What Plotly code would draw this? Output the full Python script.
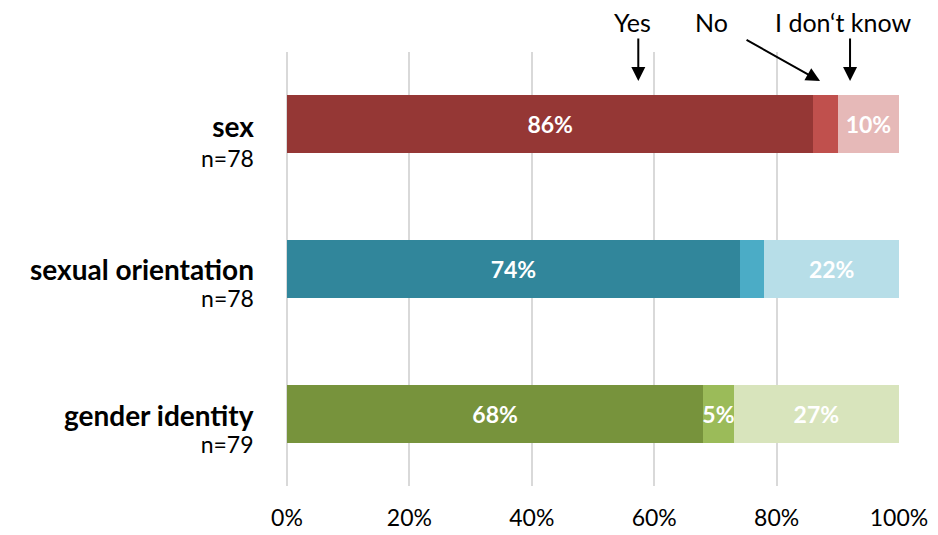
import plotly.graph_objects as go

categories = ["sex", "sexual orientation", "gender identity"]
sample_sizes = ["n=78", "n=78", "n=79"]
yes_vals = [86, 74, 68]
no_vals = [4, 4, 5]
idk_vals = [10, 22, 27]
answer_labels = ["Yes", "No", "I don\u2018t know"]
x_ticks = [0, 20, 40, 60, 80, 100]
x_tick_labels = ["0%", "20%", "40%", "60%", "80%", "100%"]

yes_colors = ["#953735", "#31869B", "#77933C"]
no_colors = ["#C0504D", "#4BACC6", "#9BBB59"]
idk_colors = ["#E6B9B8", "#B7DEE8", "#D8E4BC"]

FONT = "Lato, 'Open Sans', sans-serif"

def lab(vals):
    return [f"<b>{v}%</b>" if v >= 5 else "" for v in vals]

fig = go.Figure()
for vals, cols in [(yes_vals, yes_colors), (no_vals, no_colors), (idk_vals, idk_colors)]:
    fig.add_trace(go.Bar(
        y=list(range(len(categories))), x=vals, orientation="h",
        marker=dict(color=cols, line=dict(width=0)),
        width=0.4,
        text=lab(vals), textposition="inside", insidetextanchor="middle",
        textfont=dict(color="white", size=23, family=FONT),
        textangle=0, cliponaxis=False, hoverinfo="skip",
    ))

fig.update_layout(
    barmode="stack",
    width=938, height=535,
    margin=dict(l=279, r=47, t=44, b=53),
    plot_bgcolor="white", paper_bgcolor="white",
    showlegend=False,
    font=dict(family=FONT, color="black"),
    uniformtext=dict(minsize=23, mode="show"),
)
fig.update_xaxes(
    range=[0, 100], tickvals=x_ticks, ticktext=x_tick_labels,
    showgrid=True, gridcolor="#D9D9D9", gridwidth=2,
    zeroline=True, zerolinecolor="#D9D9D9", zerolinewidth=2, showline=False,
    tickfont=dict(size=23, family=FONT, color="black"),
    ticks="", ticklabelstandoff=16,
)
fig.update_yaxes(
    range=[2.5, -0.5], showticklabels=False, showgrid=False,
    zeroline=False, showline=False, ticks="",
)

# Category labels (name + sample size as one two-line text)
label_offsets = [0.113, 0.092, 0.096]
line_sizes = [23, 21, 21]
for i, (c, n) in enumerate(zip(categories, sample_sizes)):
    fig.add_annotation(
        x=-0.05, xref="paper", xanchor="right", y=i + label_offsets[i], yref="y",
        text=f"<b><span style='font-size:28px'>{c}</span></b><br><span style='font-size:23px'>{n}</span>",
        showarrow=False, align="right",
        font=dict(size=line_sizes[i], family=FONT, color="black"), yanchor="middle")

# Answer callouts
text_x = [56.4, 69.4, 90.8]
for t, xv in zip(answer_labels, text_x):
    fig.add_annotation(x=xv, xref="x", y=1.068, yref="paper", text=t, showarrow=False,
                       font=dict(size=25, family=FONT, color="black"), yanchor="middle")

arrow_specs = [(57.4, 0, -44), (87.1, -75, -42), (92.0, 0, -44)]
for xv, ax, ay in arrow_specs:
    fig.add_annotation(x=xv, xref="x", y=0.933, yref="paper", text="", showarrow=True,
                       arrowhead=2, arrowsize=1.4, arrowwidth=2, arrowcolor="black",
                       ax=ax, ay=ay)

fig.write_html("out.html")
